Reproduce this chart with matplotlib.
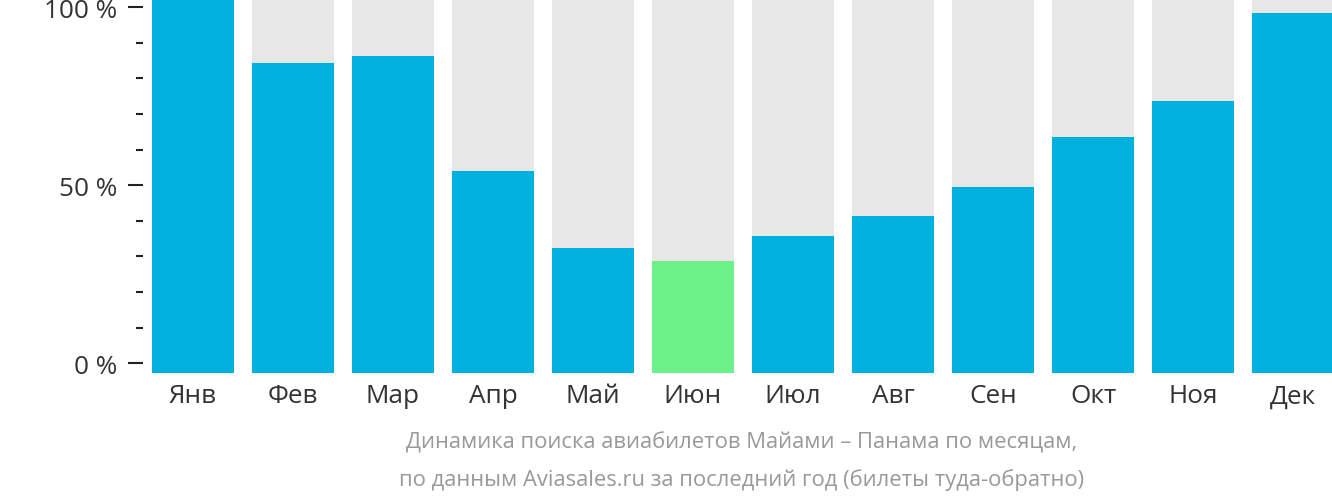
import matplotlib
matplotlib.use("Agg")
import matplotlib.pyplot as plt
from matplotlib.ticker import MultipleLocator, FixedLocator

months = ["Янв", "Фев", "Мар", "Апр", "Май", "Июн", "Июл", "Авг", "Сен", "Окт", "Ноя", "Дек"]
values = [102.3, 84.4, 86.3, 54.0, 32.4, 28.7, 35.8, 41.4, 49.5, 63.5, 73.7, 98.4]
highlight = "Июн"
y_ticks = [0, 50, 100]
y_tick_labels = ["0 %", "50 %", "100 %"]
caption = ["Динамика поиска авиабилетов Майами – Панама по месяцам,",
           "по данным Aviasales.ru за последний год (билеты туда-обратно)"]

BLUE = "#00B1DD"
GREEN = "#6CF188"
GREY = "#E7E7E7"
Y_LO, Y_HI = -2.72, 102.3

plt.rcParams['font.family'] = ['Open Sans', 'DejaVu Sans']

fig = plt.figure(figsize=(13.32, 5.02), dpi=100)
W, H = 1332, 502
ax = fig.add_axes([143 / W, (H - 374) / H, 1200 / W, 374 / H])

x = list(range(len(months)))
ax.bar(x, [Y_HI - Y_LO] * len(months), bottom=Y_LO, width=0.82, color=GREY, zorder=1)
colors = [GREEN if m == highlight else BLUE for m in months]
ax.bar(x, [v - Y_LO for v in values], bottom=Y_LO, width=0.82, color=colors, zorder=2)

ax.set_xlim(-0.5, len(months) - 0.5)
ax.set_ylim(Y_LO, Y_HI)
for s in ax.spines.values():
    s.set_visible(False)

ax.yaxis.set_major_locator(FixedLocator(y_ticks))
ax.set_yticklabels(y_tick_labels)
ax.yaxis.set_minor_locator(MultipleLocator(10))
ax.tick_params(axis='y', which='major', length=10.5, width=1.5, color='#222222',
               labelsize=18.8, labelcolor='#333333', pad=8)
ax.tick_params(axis='y', which='minor', length=5, width=1.5, color='#222222')

ax.set_xticks(x)
ax.set_xticklabels(months)
ax.tick_params(axis='x', length=0, labelsize=18.8, labelcolor='#333333', pad=7.5)

fig.text(742 / W, 1 - 443 / H, caption[0], ha='center', va='center', fontsize=15.8, color='#999999')
fig.text(742 / W, 1 - 480 / H, caption[1], ha='center', va='center', fontsize=15.8, color='#999999')

fig.savefig("out.png", dpi=100)
